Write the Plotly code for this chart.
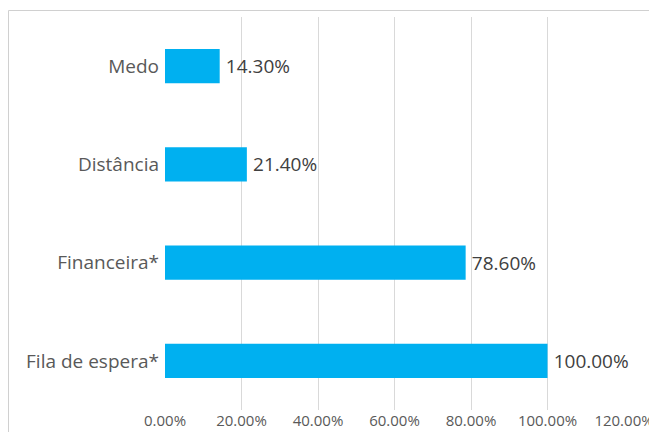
import plotly.graph_objects as go

categories = ["Fila de espera*", "Financeira*", "Distância", "Medo"]
values = [1.00, 0.786, 0.214, 0.143]
labels = ["100.00%", "78.60%", "21.40%", "14.30%"]
tick_vals = [0, 0.2, 0.4, 0.6, 0.8, 1.0, 1.2]

# page body has an 8px margin, so figure coordinates = screen - 8
OFF = 8
W, H = 657 - OFF, 432 - OFF
L, T = 165 - OFF, 17 - OFF
R = W - (624 - OFF)
B = H - (410 - OFF)
pw, ph = W - L - R, H - T - B

fig = go.Figure(go.Bar(
    x=values, y=categories, orientation="h",
    marker=dict(color="#00B0F0", line=dict(width=0)),
    text=["\u2009" + s for s in labels], textposition="outside",
    textfont=dict(size=19, color="#404040", family="Open Sans"),
    cliponaxis=False, width=0.35,
))

def px_x(px):
    return (px - OFF - L) / pw

def px_y(py):
    return (H - B - (py - OFF)) / ph

fig.add_shape(type="rect", xref="paper", yref="paper",
              x0=px_x(8.5), x1=px_x(700), y0=px_y(10.5), y1=px_y(460),
              line=dict(color="#D0D0D0", width=1), fillcolor="rgba(0,0,0,0)",
              layer="below")

fig.update_layout(
    width=W, height=H,
    margin=dict(l=L, r=R, t=T, b=B, pad=0, autoexpand=False),
    paper_bgcolor="white", plot_bgcolor="white",
    showlegend=False,
    font=dict(family="Open Sans", color="#595959"),
    xaxis=dict(range=[0, 1.2], tickvals=tick_vals, tickformat=".2%",
               showgrid=True, gridcolor="#D9D9D9", gridwidth=1,
               zeroline=False, showline=False, ticks="",
               tickfont=dict(size=15, color="#595959"), fixedrange=True,
               ticklabelstandoff=0, automargin=False),
    yaxis=dict(showgrid=False, zeroline=False, showline=False, ticks="",
               tickfont=dict(size=19, color="#595959"), ticklabelstandoff=5,
               automargin=False),
)

fig.write_html("out.html")
